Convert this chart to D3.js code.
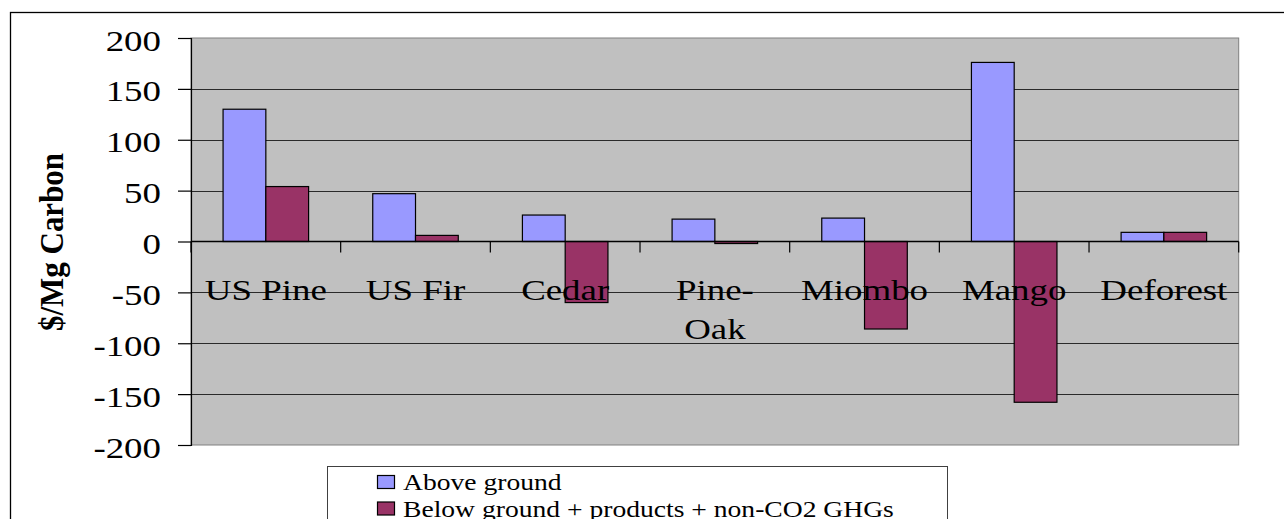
<!DOCTYPE html>
<html>
<head>
<meta charset="utf-8">
<script src="https://cdn.jsdelivr.net/npm/d3@7/dist/d3.min.js"></script>
<style>
  html, body { margin: 0; padding: 0; background: #fff; overflow: hidden; }
  svg { display: block; }
</style>
</head>
<body>
<svg id="chart" width="1284" height="519"></svg>
<script>
// ---- data ----
const categories = ["US Pine", "US Fir", "Cedar", "Pine-Oak", "Miombo", "Mango", "Deforest"];
const categoryLabels = [["US Pine"], ["US Fir"], ["Cedar"], ["Pine-", "Oak"], ["Miombo"], ["Mango"], ["Deforest"]];
const seriesNames = ["Above ground", "Below ground + products + non-CO2 GHGs"];
const aboveGround = [130, 47, 26, 22, 23, 176, 9];
const belowGround = [54, 6, -60, -2, -86, -158, 9];
const yTicks = [-200, -150, -100, -50, 0, 50, 100, 150, 200];
const yTitle = "$/Mg Carbon";
const colors = ["#9999FF", "#993366"];

// ---- layout ----
const W = 1284, H = 519;
const plot = { left: 191, right: 1238.7, top: 38, bottom: 445 };
const FONT = "'Liberation Serif', 'Times New Roman', serif";
const SX = 1.23; // horizontal stretch of the reference rendering

const svg = d3.select("#chart");

// outer frame
svg.append("rect")
  .attr("x", 10.5).attr("y", 12.5)
  .attr("width", W + 20).attr("height", H + 20)
  .attr("fill", "#fff").attr("stroke", "#000").attr("stroke-width", 1.3);

const y = d3.scaleLinear().domain([-200, 200]).range([plot.bottom, plot.top]);
const x0 = d3.scaleBand().domain(categories).range([plot.left, plot.right]).padding(0);
const bw = x0.bandwidth();
const x1 = d3.scaleBand().domain(seriesNames)
  .range([bw * 0.75 / 3.5, bw * 2.75 / 3.5]).padding(0);

// plot background
svg.append("rect")
  .attr("x", plot.left).attr("y", plot.top)
  .attr("width", plot.right - plot.left).attr("height", plot.bottom - plot.top)
  .attr("fill", "#C0C0C0").attr("stroke", "#808080").attr("stroke-width", 1);

// gridlines
svg.append("g").selectAll("line")
  .data(yTicks.filter(d => d !== 200 && d !== -200 && d !== 0))
  .join("line")
  .attr("x1", plot.left).attr("x2", plot.right)
  .attr("y1", d => Math.round(y(d)) + 0.5).attr("y2", d => Math.round(y(d)) + 0.5)
  .attr("stroke", "#2a2a2a").attr("stroke-width", 1);

// y axis
const yAxis = d3.axisLeft(y).tickValues(yTicks).tickSize(13).tickPadding(17)
  .tickFormat(d => String(d));
const gy = svg.append("g").attr("transform", `translate(${plot.left},0)`).call(yAxis);
gy.select(".domain").attr("stroke", "#000").attr("stroke-width", 1.2);
gy.selectAll(".tick line").attr("stroke", "#000").attr("stroke-width", 1.2);
gy.selectAll(".tick text")
  .attr("font-family", FONT).attr("font-size", 30).attr("fill", "#000")
  .attr("text-anchor", "end").attr("dy", null).attr("x", 0).attr("y", 0)
  .attr("transform", `translate(-30,12) scale(${SX},1)`);

// bars
const groups = svg.append("g").selectAll("g")
  .data(categories.map((c, i) => ({ c, vals: [aboveGround[i], belowGround[i]] })))
  .join("g")
  .attr("transform", d => `translate(${x0(d.c)},0)`);
groups.selectAll("rect")
  .data(d => d.vals.map((v, j) => ({ v, s: seriesNames[j], j })))
  .join("rect")
  .attr("x", d => x1(d.s))
  .attr("width", x1.bandwidth())
  .attr("y", d => y(Math.max(0, d.v)))
  .attr("height", d => Math.abs(y(d.v) - y(0)))
  .attr("fill", d => colors[d.j])
  .attr("stroke", "#000").attr("stroke-width", 1.2);

// zero axis (category axis)
svg.append("line")
  .attr("x1", plot.left).attr("x2", plot.right)
  .attr("y1", y(0)).attr("y2", y(0))
  .attr("stroke", "#000").attr("stroke-width", 1.3);
const boundaries = categories.map(c => x0(c)).concat([plot.right]);
svg.append("g").selectAll("line")
  .data(boundaries)
  .join("line")
  .attr("x1", d => d).attr("x2", d => d)
  .attr("y1", y(0)).attr("y2", y(0) + 11)
  .attr("stroke", "#000").attr("stroke-width", 1.2);

// category labels
const lab = svg.append("g").selectAll("g")
  .data(categories.map((c, i) => ({ c, lines: categoryLabels[i] })))
  .join("g")
  .attr("transform", d => `translate(${x0(d.c) + bw / 2},300) scale(${SX},1)`);
lab.selectAll("text")
  .data(d => d.lines)
  .join("text")
  .attr("x", 0).attr("y", (d, i) => i * 39.5)
  .attr("text-anchor", "middle")
  .attr("font-family", FONT).attr("font-size", 30).attr("fill", "#000")
  .text(d => d);

// y title
svg.append("text")
  .attr("transform", "translate(63,242) rotate(-90) scale(1,1.08)")
  .attr("text-anchor", "middle")
  .attr("font-family", FONT).attr("font-size", 31).attr("font-weight", "bold")
  .attr("fill", "#000")
  .text(yTitle);

// legend
const leg = svg.append("g");
leg.append("rect")
  .attr("x", 327.5).attr("y", 466.5).attr("width", 620).attr("height", 80)
  .attr("fill", "#fff").attr("stroke", "#404040").attr("stroke-width", 1);
const items = leg.selectAll("g.item")
  .data(seriesNames.map((s, j) => ({ s, j })))
  .join("g").attr("class", "item")
  .attr("transform", d => `translate(0,${d.j * 26.5})`);
items.append("rect")
  .attr("x", 377.5).attr("y", 475.5).attr("width", 17).attr("height", 13)
  .attr("fill", d => colors[d.j]).attr("stroke", "#000").attr("stroke-width", 1.2);
items.append("text")
  .attr("transform", `translate(403,490) scale(1.2,1)`)
  .attr("font-family", FONT).attr("font-size", 23).attr("fill", "#000")
  .text(d => d.s);
</script>
</body>
</html>
